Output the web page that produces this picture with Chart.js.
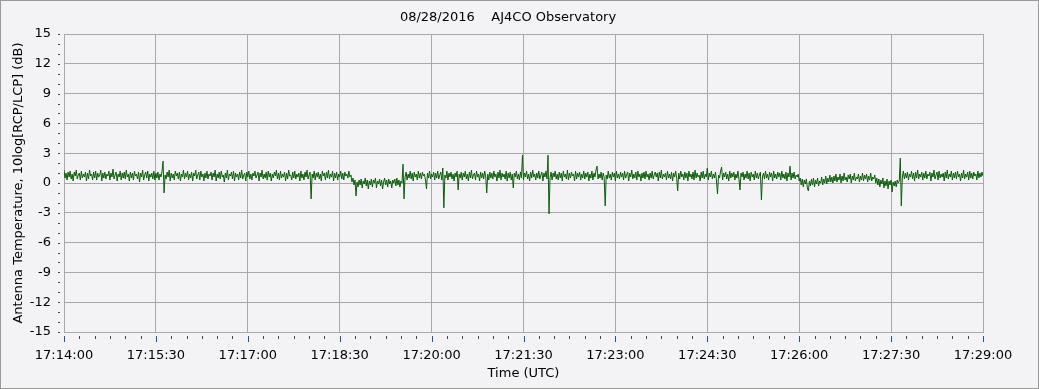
<!DOCTYPE html>
<html>
<head>
<meta charset="utf-8">
<script src="https://cdn.jsdelivr.net/npm/chart.js@4"></script>
<style>
  html, body { margin: 0; padding: 0; background: #f3f3f5; }
</style>
</head>
<body>
<canvas id="rlcp" width="1039" height="389"></canvas>
<script>
// 08/28/2016 AJ4CO, RCP/LCP ratio, one reading per second from 17:14:00
const chartTitle = '08/28/2016    AJ4CO Observatory';
const sampleStep = 1; // seconds
const xTickLabels = ['17:14:00', '17:15:30', '17:17:00', '17:18:30', '17:20:00', '17:21:30',
                     '17:23:00', '17:24:30', '17:26:00', '17:27:30', '17:29:00'];
const yTickValues = [-15, -12, -9, -6, -3, 0, 3, 6, 9, 12, 15];

// one row = 30 s
const ratioDb = [
    1.3,0.5,1.0,0.3,1.1,0.6,1.2,0.4,0.9,0.2,1.1,0.7,1.3,0.4,0.8,1.0,0.3,1.2,0.5,0.9,0.6,1.1,0.2,1.0,0.4,1.3,0.7,0.9,0.3,1.1,
    0.5,1.2,0.3,1.0,0.6,0.8,1.3,0.2,1.0,0.5,1.1,0.4,0.9,0.7,1.2,0.3,1.0,0.6,1.4,0.4,0.8,1.1,0.2,0.9,0.6,1.2,0.3,1.0,0.5,1.1,
    0.4,1.3,0.6,0.9,0.2,1.1,0.5,1.0,0.3,1.2,0.7,0.9,0.4,1.1,0.1,1.0,0.6,1.3,0.3,0.8,1.1,0.5,1.2,0.2,0.9,0.6,1.0,0.4,1.2,0.3,
    1.0,0.5,1.1,0.3,0.9,0.6,1.2,2.2,-1.0,0.8,0.4,1.1,0.6,1.3,0.2,1.0,0.5,0.9,0.3,1.2,0.7,1.0,0.4,1.1,0.2,0.9,0.6,1.3,0.4,1.0,
    0.6,1.2,0.3,0.9,0.5,1.1,0.2,1.0,0.7,1.3,0.4,0.8,1.1,0.3,1.2,0.6,0.9,0.2,1.0,0.5,1.2,0.4,0.9,0.7,1.1,0.3,1.0,0.6,1.3,0.2,
    0.9,0.5,1.1,0.4,1.2,0.6,0.8,0.1,1.0,0.5,1.3,0.3,0.9,0.7,1.1,0.4,1.2,0.2,1.0,0.6,0.9,0.3,1.1,0.5,1.3,0.4,0.8,1.0,0.2,1.1,
    0.6,1.2,0.4,0.9,0.3,1.0,0.7,1.2,0.5,0.8,1.1,0.2,1.0,0.6,1.3,0.4,0.9,0.5,1.1,0.3,1.2,0.6,1.0,0.2,0.9,0.5,1.1,0.7,1.3,0.4,
    1.0,0.3,1.2,0.5,0.9,0.6,1.1,0.2,1.0,0.4,1.3,0.7,0.8,0.3,1.1,0.5,1.2,0.4,0.9,0.6,1.0,0.2,1.2,0.5,0.9,0.3,1.1,0.6,1.3,0.4,
    0.8,1.1,-1.6,0.9,0.5,1.2,0.3,1.0,0.6,1.1,0.4,0.9,0.2,1.2,0.7,1.0,0.3,1.1,0.5,1.3,0.4,0.9,0.6,1.2,0.2,1.0,0.5,1.1,0.3,0.9,
    0.6,1.2,0.4,1.0,0.3,1.1,0.7,0.9,0.5,1.2,0.6,0.8,0.1,0.5,-0.2,0.3,-1.3,0.1,-0.4,0.3,-0.2,0.4,-0.5,0.2,-0.1,0.5,-0.3,0.3,-0.6,0.2,
    -0.2,0.4,-0.4,0.3,0.0,0.5,-0.5,0.2,-0.1,0.4,-0.3,0.3,-0.6,0.1,0.5,-0.2,0.3,-0.4,0.4,-0.1,0.2,-0.5,0.3,0.0,0.4,-0.3,0.5,-0.2,0.3,-0.4,
    0.2,0.0,1.9,-1.6,0.6,1.1,0.3,0.9,0.5,1.2,0.4,1.0,0.2,1.1,0.6,0.9,0.3,1.2,0.5,1.0,0.4,1.1,0.7,0.9,0.3,-0.6,1.0,0.5,1.2,0.4,
    0.9,0.6,1.1,0.3,1.0,0.5,1.2,0.4,0.8,1.1,0.3,1.5,-2.5,0.8,0.5,1.2,0.3,1.0,0.6,1.1,0.4,0.9,0.2,1.0,0.6,1.2,-0.7,0.9,0.5,1.1,
    0.3,1.0,0.6,1.2,0.4,0.9,0.2,1.1,0.5,1.3,0.4,0.8,1.0,0.3,1.2,0.6,0.9,0.2,1.1,0.5,1.0,0.4,1.2,0.6,-1.0,0.9,0.3,1.1,0.5,1.0,
    0.4,1.2,0.6,0.9,0.2,1.1,0.5,1.3,0.3,1.0,0.6,0.9,0.4,1.2,0.2,1.0,0.5,1.1,0.3,0.9,-0.5,1.0,0.6,1.2,0.4,0.9,0.3,1.1,0.5,2.8,
    0.3,1.0,0.6,1.2,0.4,0.9,0.2,1.1,0.5,1.3,0.6,0.9,0.3,1.0,0.5,1.2,0.4,0.8,1.1,0.2,1.0,0.6,1.2,0.4,2.8,-3.1,0.5,1.1,0.3,1.0,
    0.6,1.2,0.4,0.9,0.3,1.1,0.5,1.0,0.2,1.2,0.6,0.9,0.4,1.3,0.3,1.0,0.5,1.1,0.7,0.9,0.2,1.2,0.4,1.0,0.6,1.1,0.3,0.9,0.5,1.2,
    0.4,1.0,0.6,1.1,0.2,0.9,0.5,1.2,0.3,1.0,0.6,1.3,1.7,0.4,0.9,0.5,1.1,0.3,1.0,0.6,-2.3,0.8,0.4,1.2,0.5,0.9,0.3,1.1,0.6,1.0,
    0.2,1.2,0.5,0.9,0.4,1.1,0.6,1.0,0.3,1.2,0.5,0.8,1.1,0.2,1.0,0.6,1.3,0.4,0.9,0.5,1.1,0.3,1.2,0.6,0.9,0.2,1.0,0.5,1.1,0.4,
    1.2,0.6,0.9,0.3,1.0,0.5,1.2,0.4,0.8,1.1,0.6,1.0,0.2,1.1,0.5,1.3,0.4,0.9,0.6,1.0,0.3,1.2,0.5,0.9,0.4,1.1,0.2,1.0,0.6,1.2,
    0.5,-0.8,1.0,0.4,1.2,0.6,0.9,0.3,1.1,0.5,1.0,0.2,1.2,0.6,0.9,0.4,1.1,0.3,1.3,0.5,1.0,0.6,0.8,0.2,1.1,0.5,1.2,0.4,0.9,0.6,
    1.5,0.3,1.0,0.6,1.2,0.4,0.9,0.5,1.1,0.2,-1.1,0.8,0.5,1.2,1.6,0.3,1.0,0.6,1.1,0.4,0.9,0.2,1.2,0.5,1.0,0.6,1.1,0.3,0.9,0.5,
    1.2,0.4,-0.7,1.0,0.6,1.1,0.3,0.9,0.5,1.2,0.4,1.0,0.2,1.1,0.6,0.9,0.3,1.2,0.5,1.0,0.4,0.8,1.1,-1.7,0.6,1.0,0.4,1.2,0.5,0.9,
    0.3,1.1,0.6,1.0,0.2,1.2,0.5,0.9,0.4,1.1,0.6,1.0,0.3,1.2,0.5,0.9,0.4,1.1,0.2,1.0,0.6,1.7,0.3,1.0,0.5,1.1,0.4,0.8,0.6,0.9,
    0.2,0.5,-0.2,0.4,-0.4,0.3,-0.1,0.4,-0.5,-0.8,0.2,-0.3,0.4,-0.2,0.5,-0.4,0.3,-0.1,0.5,-0.3,0.2,0.0,0.6,-0.2,0.4,0.0,0.7,-0.1,0.5,0.1,
    0.8,0.1,0.6,0.0,0.7,0.2,0.9,0.1,0.6,0.3,0.9,0.0,0.7,0.2,1.0,0.3,0.6,0.1,0.8,0.4,0.9,0.0,0.7,0.3,1.0,0.2,0.6,0.4,0.9,0.1,
    0.7,0.3,1.0,0.2,0.8,0.4,0.9,0.1,0.7,0.3,1.0,0.2,0.6,0.4,0.8,0.0,0.5,-0.2,0.4,-0.4,0.3,-0.1,0.5,-0.5,0.2,-0.3,0.4,-0.6,0.2,-0.2,
    0.3,-0.9,0.1,-0.3,0.2,-0.4,0.3,0.0,0.2,2.5,-2.3,0.6,1.2,0.4,1.0,0.5,1.1,0.3,0.9,0.6,1.2,0.4,1.0,0.2,1.1,0.5,1.3,0.4,0.9,0.6,
    1.1,0.3,1.0,0.5,1.2,0.4,0.9,0.7,1.1,0.2,1.0,0.6,1.3,0.4,0.8,1.1,0.3,1.2,0.5,0.9,0.6,1.0,0.2,1.1,0.5,1.3,0.4,0.9,0.6,1.2,
    0.3,1.0,0.5,1.1,0.4,1.2,0.6,0.9,0.2,1.0,0.5,1.3,0.4,0.9,0.6,1.1,0.3,1.2,0.5,1.0,0.4,1.1,0.7,0.9,0.3,1.2,0.5,1.0,0.6,1.1,
    0.7
];

const FONT = { family: 'DejaVu Sans', size: 13, weight: 'normal' };
const gridGray = '#a8a8a8';
const traceGreen = '#0b5c0b';

const points = ratioDb.map((v, i) => ({ x: i * sampleStep, y: v }));
const spanSec = (xTickLabels.length - 1) * 90;

// frame, background and the header line
const frame = {
    id: 'frame',
    beforeDraw(chart) {
        const { ctx, width, height } = chart;
        ctx.save();
        ctx.fillStyle = '#f3f3f5';
        ctx.fillRect(0, 0, width, height);
        ctx.strokeStyle = '#9a9a9a';
        ctx.lineWidth = 1;
        ctx.strokeRect(0.5, 0.5, width - 1, height - 1);
        ctx.fillStyle = '#000';
        ctx.font = '13px "DejaVu Sans"';
        ctx.textAlign = 'center';
        ctx.textBaseline = 'middle';
        ctx.fillText(chartTitle, 508, 18);
        ctx.restore();
    }
};

// small tick marks outside the plot (15 s on x, 1 dB on y)
const minorTicks = {
    id: 'minorTicks',
    afterDraw(chart) {
        const { ctx, chartArea } = chart;
        const x = chart.scales.x, y = chart.scales.y;
        ctx.save();
        ctx.lineWidth = 1;
        for (let s = 0; s <= spanSec; s += 15) {
            const px = Math.round(x.getPixelForValue(s)) + 0.5;
            const major = s % 90 === 0;
            ctx.strokeStyle = major ? '#2f4f86' : '#444';
            ctx.beginPath();
            ctx.moveTo(px, chartArea.bottom + 4);
            ctx.lineTo(px, chartArea.bottom + (major ? 10 : 7));
            ctx.stroke();
        }
        ctx.fillStyle = '#444';
        for (let v = -15; v <= 15; v++) {
            const py = Math.round(y.getPixelForValue(v));
            ctx.fillRect(chartArea.left - 6, py, 2, 1);
        }
        ctx.restore();
    }
};

new Chart(document.getElementById('rlcp'), {
    type: 'line',
    data: {
        datasets: [{
            data: points,
            borderColor: traceGreen,
            borderWidth: 1,
            pointRadius: 0,
            tension: 0,
            fill: false
        }]
    },
    options: {
        responsive: false,
        animation: false,
        layout: { padding: { top: 34, right: 56, bottom: 0, left: 0 } },
        plugins: {
            legend: { display: false },
            tooltip: { enabled: false },
            title: { display: false }
        },
        scales: {
            x: {
                type: 'linear',
                min: 0,
                max: spanSec,
                afterBuildTicks: (scale) => {
                    scale.ticks = xTickLabels.map((_, i) => ({ value: i * 90 }));
                },
                ticks: {
                    color: '#000',
                    font: FONT,
                    padding: 16,
                    maxRotation: 0,
                    autoSkip: false,
                    callback: (value, index) => xTickLabels[index]
                },
                grid: { color: gridGray, drawTicks: false },
                border: { color: gridGray },
                title: { display: true, text: 'Time (UTC)', color: '#000', font: FONT, padding: { top: 0, bottom: 8 } },
                afterFit: (scale) => { scale.height = 57; }
            },
            y: {
                min: -15,
                max: 15,
                afterBuildTicks: (scale) => {
                    scale.ticks = yTickValues.map(v => ({ value: v }));
                },
                ticks: { color: '#000', font: FONT, padding: 13 },
                grid: { color: gridGray, drawTicks: false },
                border: { color: gridGray },
                title: {
                    display: true,
                    text: 'Antenna Temperature, 10log[RCP/LCP] (dB)',
                    color: '#000',
                    font: FONT,
                    padding: { top: 11, bottom: 0 }
                },
                afterFit: (scale) => { scale.width = 64; }
            }
        }
    },
    plugins: [frame, minorTicks]
});
</script>
</body>
</html>
